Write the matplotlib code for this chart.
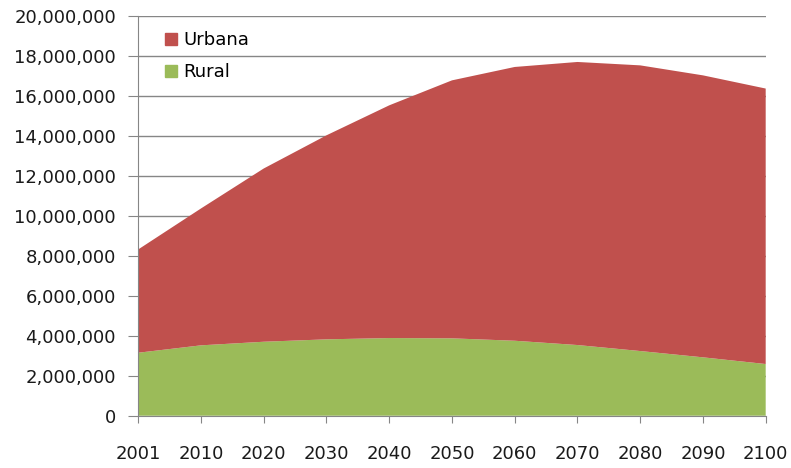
import matplotlib
matplotlib.use("Agg")
import matplotlib.pyplot as plt
from matplotlib.ticker import FuncFormatter
from matplotlib.patches import Patch

# data
years = ["2001", "2010", "2020", "2030", "2040", "2050", "2060", "2070", "2080", "2090", "2100"]
rural = [3150000, 3520000, 3700000, 3820000, 3885000, 3870000, 3750000, 3535000, 3235000, 2920000, 2585000]
total = [8320000, 10370000, 12370000, 14030000, 15530000, 16780000, 17450000, 17700000, 17530000, 17030000, 16370000]
urbana = [t - r for t, r in zip(total, rural)]

red = "#C0504D"
green = "#9BBB59"
grid_col = "#868686"

plt.rcParams["font.family"] = ["DejaVu Sans"]

fig = plt.figure(figsize=(7.91, 4.68), dpi=100)
ax = fig.add_axes([0.1748, 0.1118, 0.7932, 0.854])

x = list(range(len(years)))
ax.stackplot(x, rural, urbana, colors=[green, red], linewidth=0)

ax.set_xlim(0, len(years) - 1)
ax.set_ylim(0, 20000000)
ax.set_yticks(range(0, 20000001, 2000000))
ax.yaxis.set_major_formatter(FuncFormatter(lambda v, p: f"{int(v):,}"))
ax.set_xticks(x)
ax.set_xticklabels(years)

ax.grid(axis="y", color=grid_col, linewidth=1)
ax.set_axisbelow(True)
for s in ["top", "right"]:
    ax.spines[s].set_visible(False)
for s in ["left", "bottom"]:
    ax.spines[s].set_color(grid_col)
ax.tick_params(axis="both", colors=grid_col, labelcolor="#1a1a1a", labelsize=13)
ax.tick_params(axis="y", length=7, pad=9)
ax.tick_params(axis="x", length=5, pad=16)

handles = [Patch(color=red), Patch(color=green)]
leg = ax.legend(handles, ["Urbana", "Rural"], loc="upper left", bbox_to_anchor=(0.0426, 0.962),
                frameon=False, fontsize=13, borderpad=0, borderaxespad=0,
                handlelength=0.66, handleheight=0.66,
                handletextpad=0.35, labelspacing=0.78)

fig.savefig("out.png", dpi=100)
